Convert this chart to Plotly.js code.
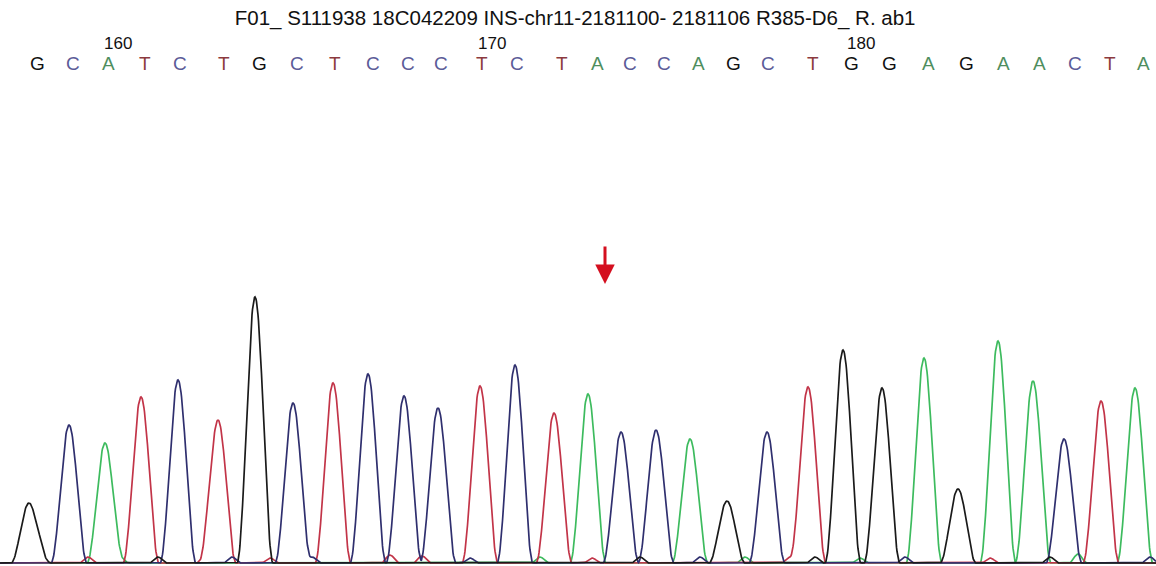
<!DOCTYPE html>
<html>
<head>
<meta charset="utf-8">
<script src="https://cdn.plot.ly/plotly-3.0.1.min.js"></script>
<style>html,body{margin:0;padding:0;background:#fff;}#chart{width:1156px;height:566px;}</style>
</head>
<body>
<div id="chart"></div>
<script>
// ---- data ----
const titleText = "F01_ S111938 18C042209 INS-chr11-2181100- 2181106 R385-D6_ R. ab1";
const baseCalls = ["G","C","A","T","C","T","G","C","T","C","C","C","T","C","T","A","C","C","A","G","C","T","G","G","A","G","A","A","C","T","A"];
const callPositions = [37,73,108,145,180,224,259,297,335,373,408,441,482,517,562,597,630,664,698,733,768,813,851,889,928,966,1003,1039,1075,1110,1143];
const firstBaseNumber = 158;
const numberedBases = [160,170,180];
const peakPositions = [29,69,105,141,178,218,255,293,333,368,404,438,480,515,554,588,621,656,690,727,767,808,843,882,924,958,998,1033,1064,1101,1135];
const peakHeights   = [60,138,120,166,183,143,266,160,180,189,167,155,177,198,150,169,131,133,124,62,131,176,213,175,205,74,222,182,124,162,175];
// small baseline bumps (channel, position, height)
const minorChannels  = ["G","T","A","G","T","C","T","C","T","T","C","A","T","G","C","A","T","G","A","C","T","G","A","C"];
const minorPositions = [42,88,120,158,205,232,270,312,390,422,470,540,592,640,700,745,790,815,860,905,990,1050,1078,1150];
const minorHeights   = [7,6,6,6,7,6,5,6,8,7,5,6,5,6,6,6,6,6,5,6,5,6,9,6];
const arrowScan = 605;

// ---- styling ----
const traceColors = {G:"#1a1a1a", C:"#2f2f6e", A:"#3dbb5e", T:"#c23448"};
const letterColors = {G:"#111111", C:"#5b5b98", A:"#4e8e5e", T:"#8c3a3e"};
const halfWidth = 18, minorHalf = 9;
const xMax = 1156, step = 0.5;

function profile(d, w){ if (Math.abs(d) >= w) return 0; const c = Math.cos(Math.PI*d/(2*w)); return c*c; }

const channels = ["A","T","C","G"];
const traces = channels.map(ch => {
  const xs = [], ys = [];
  for (let x = 0; x <= xMax; x += step) {
    let v = 0;
    baseCalls.forEach((b,i) => { if (b === ch) v += peakHeights[i]*profile(x-peakPositions[i], halfWidth); });
    minorChannels.forEach((b,i) => { if (b === ch) v += minorHeights[i]*profile(x-minorPositions[i], minorHalf); });
    xs.push(x); ys.push(v);
  }
  return {x: xs, y: ys, type: "scatter", mode: "lines", line: {color: traceColors[ch], width: 1.7}, hoverinfo: "skip", showlegend: false};
});

const annotations = [];
baseCalls.forEach((b,i) => {
  annotations.push({x: callPositions[i], y: 500, xref: "x", yref: "y", text: b, showarrow: false,
    xanchor: "center", yanchor: "middle", font: {family: "Arial, Liberation Sans, sans-serif", size: 19, color: letterColors[b]}});
});
numberedBases.forEach(n => {
  const i = n - firstBaseNumber;
  annotations.push({x: callPositions[i]-6, y: 520, xref: "x", yref: "y", text: String(n), showarrow: false,
    xanchor: "left", yanchor: "middle", font: {family: "Arial, Liberation Sans, sans-serif", size: 17, color: "#111"}});
});
annotations.push({x: arrowScan, y: 279, xref: "x", yref: "y", ax: 0, ay: -39, text: "", showarrow: true,
  arrowhead: 2, arrowsize: 1.3, arrowwidth: 3, arrowcolor: "#d40f1f"});

const layout = {
  width: 1156, height: 566,
  margin: {l: 0, r: 0, t: 0, b: 0},
  paper_bgcolor: "#ffffff", plot_bgcolor: "#ffffff",
  title: {text: titleText, x: 0.4975, xanchor: "center", y: 1 - 18/566, yanchor: "middle",
    font: {family: "Arial, Liberation Sans, sans-serif", size: 20.5, color: "#111"}},
  xaxis: {range: [0, xMax], visible: false, fixedrange: true},
  yaxis: {range: [-3, 563], visible: false, fixedrange: true},
  annotations: annotations,
  showlegend: false
};
Plotly.newPlot("chart", traces, layout, {displayModeBar: false, staticPlot: true});
</script>
</body>
</html>
